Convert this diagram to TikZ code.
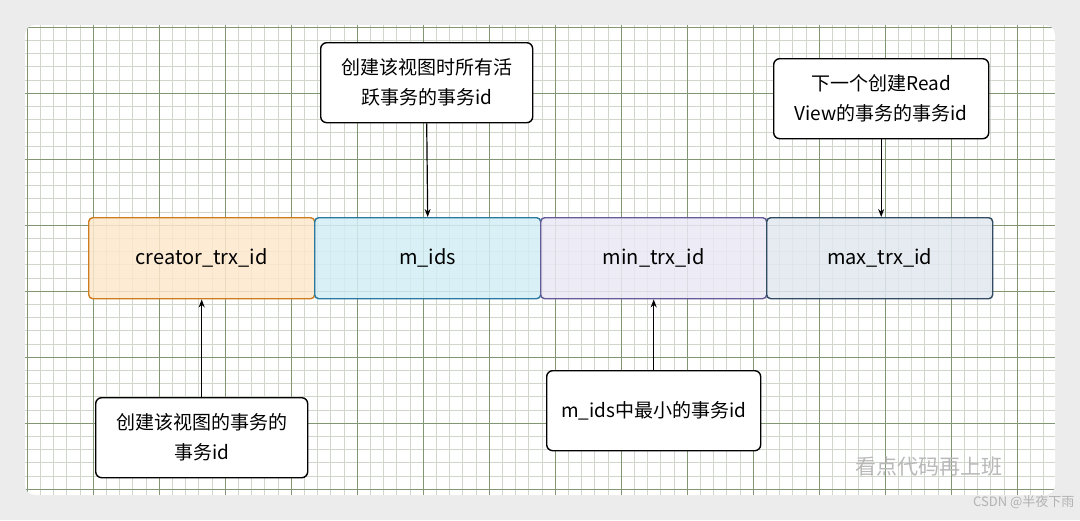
\documentclass[tikz,border=0pt]{standalone}
\usepackage{fontspec}
\setmainfont{Noto Sans CJK SC}
\usetikzlibrary{patterns,arrows.meta}
\definecolor{gminor}{RGB}{208,214,204}
\definecolor{gmajor}{RGB}{130,150,115}
\tikzset{
 x=1pt,y=-1pt,
 field/.style={draw=#1,line width=1.4pt,rounded corners=4pt,minimum width=226pt,minimum height=81pt,anchor=north west,font=\fontsize{20}{24}\selectfont},
 note/.style={draw=black,line width=1.4pt,rounded corners=6pt,fill=white,anchor=north west,minimum width=212pt,minimum height=80pt,align=center,font=\fontsize{19}{30}\selectfont,inner sep=2pt},
 arr/.style={-{Stealth[length=8pt]},line width=1.2pt}
}
\begin{document}
\begin{tikzpicture}
\fill[gray!15] (0,0) rectangle (1080,520);
\fill[white,rounded corners=10pt] (25,25) rectangle (1055,495);
\begin{scope}
\clip[rounded corners=10pt] (25,25) rectangle (1055,495);
\foreach \i in {0,...,80} \draw[gminor,line width=0.5pt] (27+\i*13.2,25) -- (27+\i*13.2,495);
\foreach \i in {0,...,36} \draw[gminor,line width=0.5pt] (25,27+\i*13.2) -- (1055,27+\i*13.2);
\foreach \i in {0,...,16} \draw[gmajor,line width=0.6pt] (27+\i*66,25) -- (27+\i*66,495);
\foreach \i in {0,...,7} \draw[gmajor,line width=0.6pt] (25,27+\i*66) -- (1055,27+\i*66);
\end{scope}
\definecolor{c1}{RGB}{205,125,30}\definecolor{f1}{RGB}{253,232,205}
\definecolor{c2}{RGB}{40,120,160}\definecolor{f2}{RGB}{210,238,245}
\definecolor{c3}{RGB}{100,90,150}\definecolor{f3}{RGB}{235,232,245}
\definecolor{c4}{RGB}{50,75,100}\definecolor{f4}{RGB}{225,232,238}
\node[field=c1,fill=f1,fill opacity=0.85,text opacity=1] (a) at (88,217) {creator\_trx\_id};
\node[field=c2,fill=f2,fill opacity=0.85,text opacity=1] (b) at (314,217) {m\_ids};
\node[field=c3,fill=f3,fill opacity=0.85,text opacity=1] (c) at (540,217) {min\_trx\_id};
\node[field=c4,fill=f4,fill opacity=0.85,text opacity=1] (d) at (766,217) {max\_trx\_id};
\node[note] (t1) at (320,42) {创建该视图时所有活\\跃事务的事务id};
\node[note,minimum width=215pt] (t2) at (773,58) {下一个创建Read\\View的事务的事务id};
\node[note] (b1) at (95,397) {创建该视图的事务的\\事务id};
\node[note,minimum width=214pt] (b2) at (546,370) {m\_ids中最小的事务id};
\draw[arr] (t1.south) -- (b.north);
\draw[arr] (t2.south) -- (t2.south|-d.north);
\draw[arr] (b1.north) -- (b1.north|-a.south);
\draw[arr] (b2.north) -- (b2.north|-c.south);
\node[text=gray!55,font=\fontsize{21}{24}\selectfont,anchor=west] (w1) at (852,467) {看点代码再上班};
\node[text=gray!60,font=\fontsize{13}{15}\selectfont,anchor=east] (w2) at (1078,502) {CSDN @半夜下雨};
\end{tikzpicture}
\end{document}
